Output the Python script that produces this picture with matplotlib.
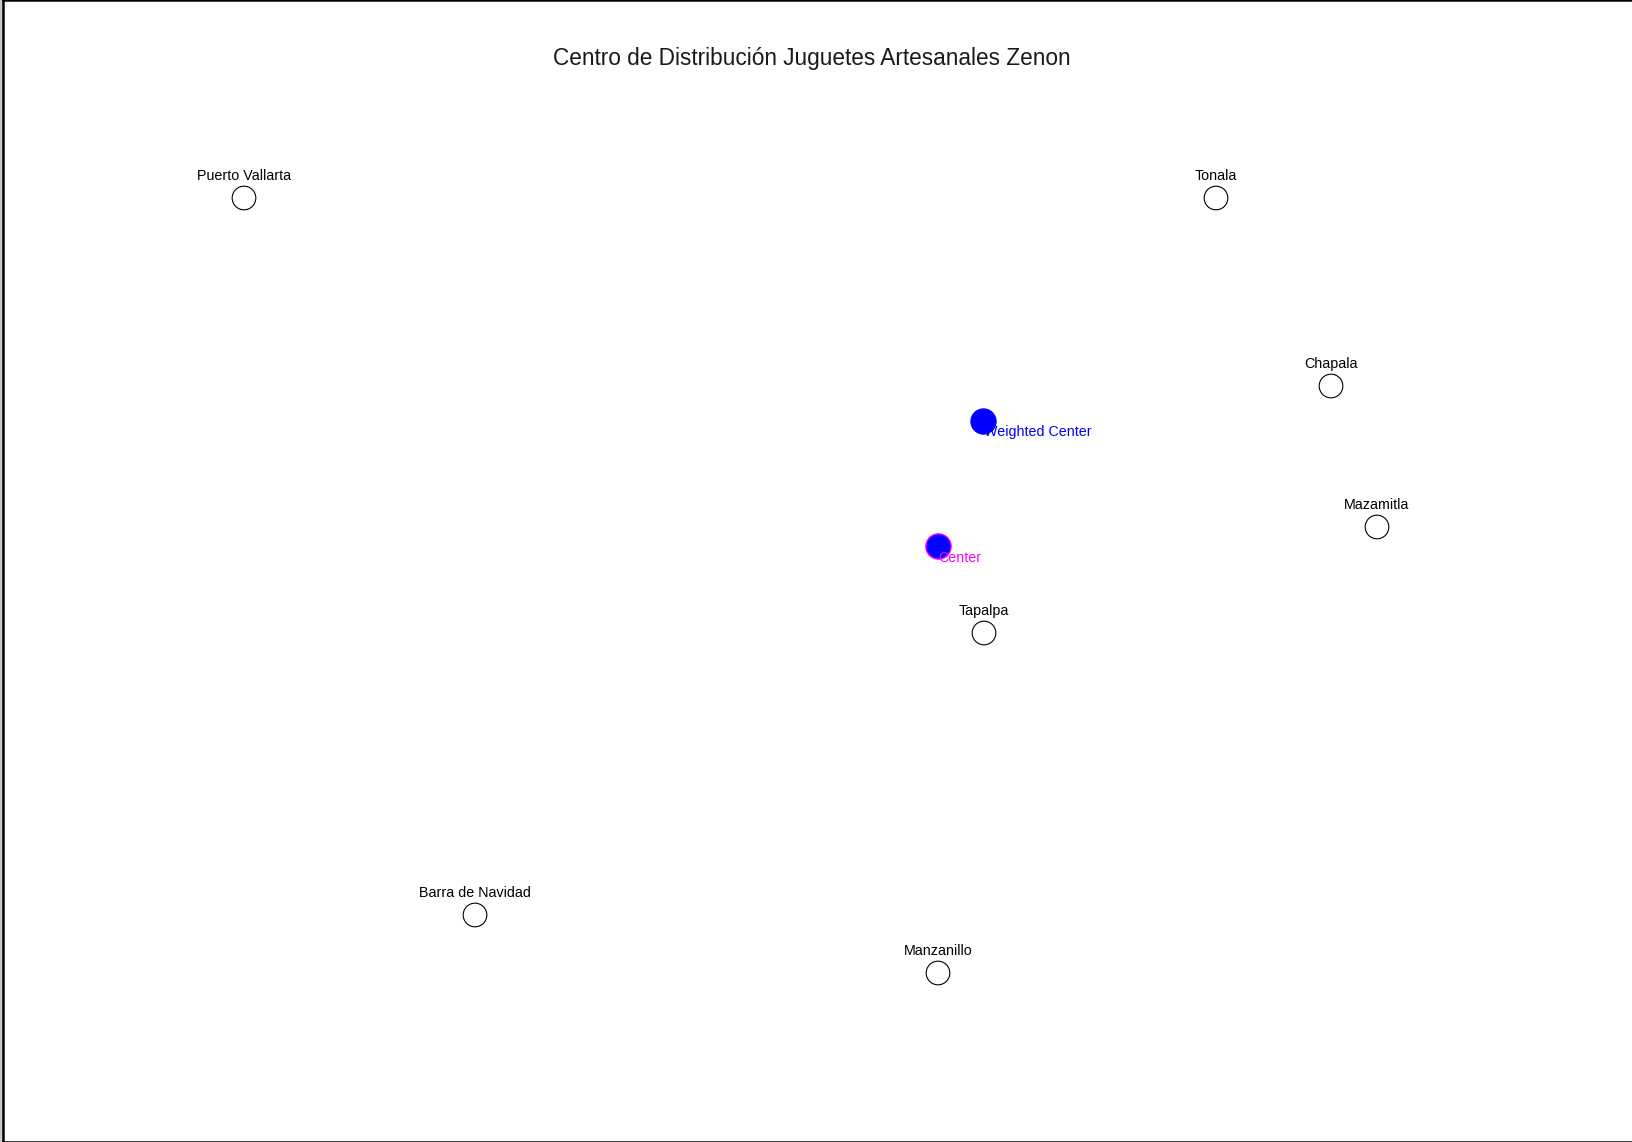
import matplotlib
matplotlib.use("Agg")
import matplotlib.pyplot as plt

# ── data (map positions, y grows downwards) ───────────────────────────────
CITIES = ["Puerto Vallarta", "Tonala", "Chapala", "Mazamitla",
          "Tapalpa", "Barra de Navidad", "Manzanillo"]
CITY_X = [241, 1213, 1328, 1374, 981, 472, 935]
CITY_Y = [198, 198, 386, 527, 633, 915, 973]

CENTER_X, CENTER_Y = 935, 546
WCENTER_X, WCENTER_Y = 980, 421

TITLE = "Centro de Distribución Juguetes Artesanales Zenon"

plt.rcParams["font.family"] = ["Liberation Sans", "DejaVu Sans"]

fig = plt.figure(figsize=(16.32, 11.42), dpi=100, facecolor="#c8c8c8")
ax = fig.add_axes([3 / 1632, 0.0, 1 - 3 / 1632, 1.0])
ax.set_facecolor("white")
ax.set_xlim(0, 1629)
ax.set_ylim(1142, 0)
ax.set_xticks([])
ax.set_yticks([])
for side in ["left", "top", "bottom"]:
    ax.spines[side].set_linewidth(1.8)
    ax.spines[side].set_color("black")
ax.spines["right"].set_visible(False)

# cities: open circles with name above
ax.scatter(CITY_X, CITY_Y, s=290, facecolors="none", edgecolors="black",
           linewidths=0.8, zorder=2)
for name, x, y in zip(CITIES, CITY_X, CITY_Y):
    ax.annotate(name, (x, y), xytext=(0, 15), textcoords="offset pixels",
                ha="center", va="bottom", fontsize=10.3, color="black", zorder=3)

# weighted center and simple center
ax.scatter([WCENTER_X], [WCENTER_Y], s=330, color="blue", edgecolors="blue",
           linewidths=0.8, zorder=2)
ax.annotate("Weighted Center", (WCENTER_X, WCENTER_Y), xytext=(1, -11),
            textcoords="offset pixels", ha="left", va="center",
            fontsize=10.3, color="blue", zorder=3)
ax.scatter([CENTER_X], [CENTER_Y], s=330, color="blue", edgecolors="magenta",
           linewidths=1.0, zorder=2)
ax.annotate("Center", (CENTER_X, CENTER_Y), xytext=(0, -12),
            textcoords="offset pixels", ha="left", va="center",
            fontsize=10.3, color="magenta", zorder=3)

ax.text(809, 58, TITLE, ha="center", va="center", fontsize=16.3,
        color="#1a1a1a")

fig.savefig("out.png", dpi=100, facecolor=fig.get_facecolor())
